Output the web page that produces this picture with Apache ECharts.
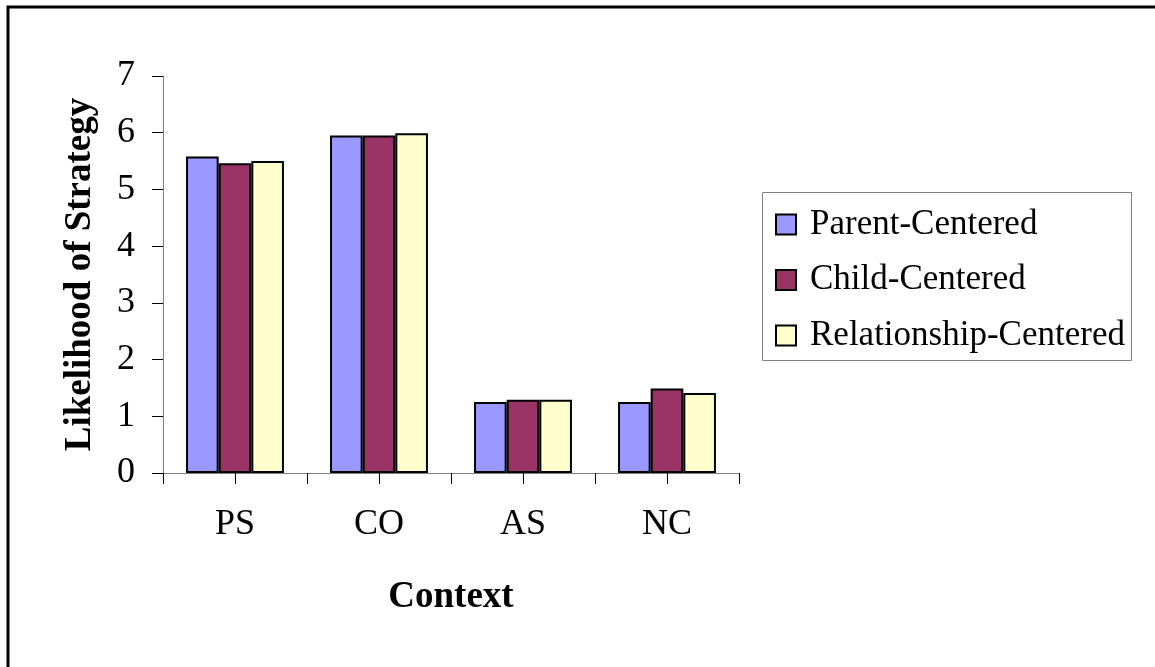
<!DOCTYPE html>
<html>
<head>
<meta charset="utf-8">
<script src="https://cdn.jsdelivr.net/npm/echarts@6/dist/echarts.min.js"></script>
<style>
  html, body { margin: 0; padding: 0; background: #fff; }
  #chart { width: 1155px; height: 667px; }
</style>
</head>
<body>
<div id="chart"></div>
<script>
// Context categories along the x axis
const contexts = ['PS', 'CO', 'AS', 'NC'];
// Mean likelihood of each strategy per context
const parentCentered = [5.58, 5.95, 1.25, 1.25];
const childCentered = [5.46, 5.95, 1.29, 1.49];
const relationshipCentered = [5.50, 5.99, 1.29, 1.41];
const seriesNames = ['Parent-Centered', 'Child-Centered', 'Relationship-Centered'];
const yTicks = { min: 0, max: 7, interval: 1 };

const FONT = '"Liberation Serif", "Times New Roman", serif';
const colors = ['#9999FF', '#993366', '#FFFFCC'];
const seriesData = [parentCentered, childCentered, relationshipCentered];

// half-category tick positions: two slots per context
const tickSlots = [];
contexts.forEach(c => { tickSlots.push(c + '-a', c + '-b'); });

const chart = echarts.init(document.getElementById('chart'), null, { renderer: 'canvas' });

chart.setOption({
  animation: false,
  backgroundColor: '#ffffff',
  grid: { left: 163, right: 416, top: 76, bottom: 194, containLabel: false },
  xAxis: [
    {
      type: 'category',
      data: contexts,
      position: 'bottom',
      boundaryGap: true,
      name: 'Context',
      nameLocation: 'middle',
      nameGap: 106,
      nameTextStyle: { fontFamily: FONT, fontSize: 37, fontWeight: 'bold', color: '#000' },
      axisLine: { lineStyle: { color: '#808080', width: 1 } },
      axisTick: { show: false },
      axisLabel: { fontFamily: FONT, fontSize: 36, color: '#000', margin: 34 },
      splitLine: { show: false }
    },
    {
      type: 'category',
      data: tickSlots,
      position: 'bottom',
      offset: 0,
      boundaryGap: true,
      axisLine: { show: false },
      axisTick: { show: true, interval: 0, length: 11, lineStyle: { color: '#000', width: 1 } },
      axisLabel: { show: false, interval: 0 },
      splitLine: { show: false }
    }
  ],
  yAxis: {
    type: 'value',
    min: yTicks.min,
    max: yTicks.max,
    interval: yTicks.interval,
    name: 'Likelihood of Strategy',
    nameLocation: 'middle',
    nameRotate: 90,
    nameGap: 64,
    nameTextStyle: { fontFamily: FONT, fontSize: 37, fontWeight: 'bold', color: '#000' },
    axisLine: { show: true, lineStyle: { color: '#808080', width: 1 } },
    axisTick: { show: true, length: 11, lineStyle: { color: '#000', width: 1 } },
    axisLabel: { fontFamily: FONT, fontSize: 36, color: '#000', margin: 28 },
    splitLine: { show: false }
  },
  legend: {
    orient: 'vertical',
    left: 763,
    top: 207,
    itemWidth: 20,
    itemHeight: 20,
    itemGap: 20.5,
    icon: 'rect',
    data: seriesNames,
    textStyle: { fontFamily: FONT, fontSize: 35, color: '#000', lineHeight: 35, padding: [0, 0, 0, 9] },
    padding: [0, 0, 0, 12]
  },
  graphic: [
    {
      type: 'rect',
      shape: { x: 762.5, y: 192.5, width: 369, height: 168 },
      style: { fill: 'none', stroke: '#808080', lineWidth: 1 },
      z: -1
    },
    {
      type: 'rect',
      shape: { x: 8, y: 7, width: 1300, height: 800 },
      style: { fill: 'none', stroke: '#000', lineWidth: 3 },
      z: 10
    }
  ],
  series: seriesNames.map((name, i) => ({
    name: name,
    type: 'bar',
    xAxisIndex: 0,
    data: seriesData[i],
    barGap: '0%',
    barCategoryGap: '32%',
    itemStyle: { color: colors[i], borderColor: '#000', borderWidth: 2 },
    emphasis: { disabled: true }
  }))
});
</script>
</body>
</html>
